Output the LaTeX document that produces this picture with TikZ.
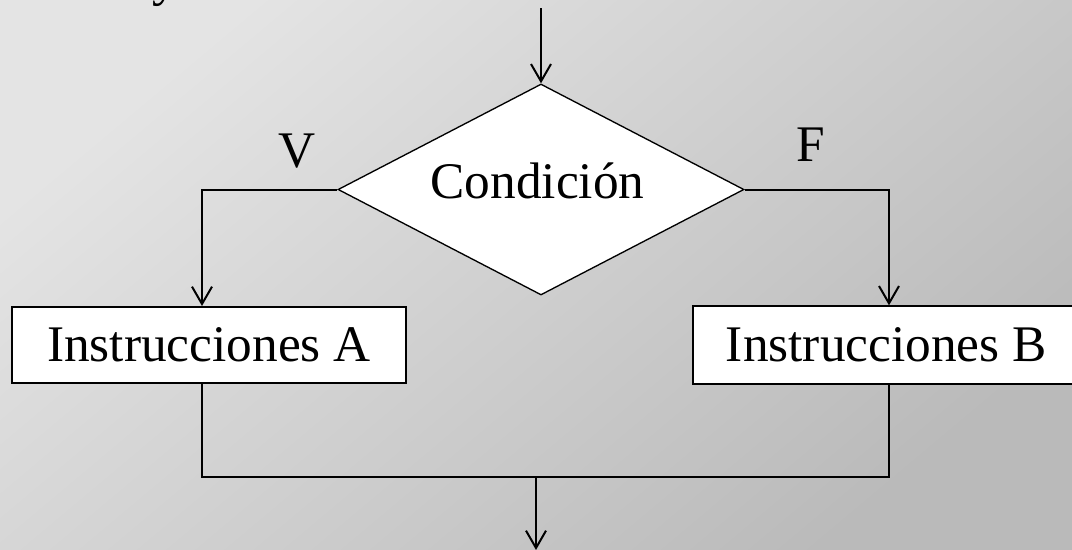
\documentclass[tikz,border=0pt]{standalone}
\usepackage{fontspec}
\setmainfont{Liberation Serif}
\usetikzlibrary{shapes.geometric,arrows.meta}
\definecolor{bglight}{RGB}{228,228,228}
\definecolor{bgdark}{RGB}{186,186,186}
\tikzset{
  txt/.style={font=\fontsize{38.5}{46}\selectfont, text=black},
  conn/.style={line width=1.5pt, draw=black},
  arr/.style={conn, -{Straight Barb[length=13pt,width=15pt,line width=1.5pt]}},
  boxstyle/.style={draw=black, line width=1.5pt, fill=white, txt, inner sep=0pt},
}
\begin{document}
\begin{tikzpicture}[x=0.75pt,y=-0.75pt]
\useasboundingbox (0,0) rectangle (1072,550);
\shade[top color=bglight, bottom color=bgdark, shading angle=40] (0,0) rectangle (1072,550);
% fragment of a letter from text above
\node[txt, anchor=base] (frag) at (165,-5) {y};
% diamond
\node[diamond, draw=black, line width=1pt, fill=white, minimum width=304.5pt, minimum height=158.25pt, inner sep=0pt] (cond) at (541,189.5) {};
\node[txt, anchor=base] (condtxt) at (537.5,198) {Condición};
% boxes
\node[boxstyle, minimum width=295.5pt, minimum height=57pt] (A) at (209,345) {Instrucciones A};
\node[boxstyle, minimum width=300pt, minimum height=58pt] (B) at (893,345) {\hspace*{-5pt}Instrucciones B\hspace*{5pt}};
% labels
\node[txt, anchor=base] (V) at (297,167) {V};
\node[txt, anchor=base] (F) at (811,161) {F};
% coordinates
\coordinate (start) at (541,8);
\coordinate (m) at (536,477);
\coordinate (end) at (536,550);
% connectors
\draw[arr] (start) -- (cond.north);
\draw[arr] (cond.west) -| ([xshift=-5.25pt]A.north);
\draw[arr] (cond.east) -| ([xshift=-3pt]B.north);
\draw[conn] ([xshift=-5.25pt]A.south) |- (m) -| ([xshift=-3pt]B.south);
\draw[arr] (m) -- (end);
\end{tikzpicture}
\end{document}
